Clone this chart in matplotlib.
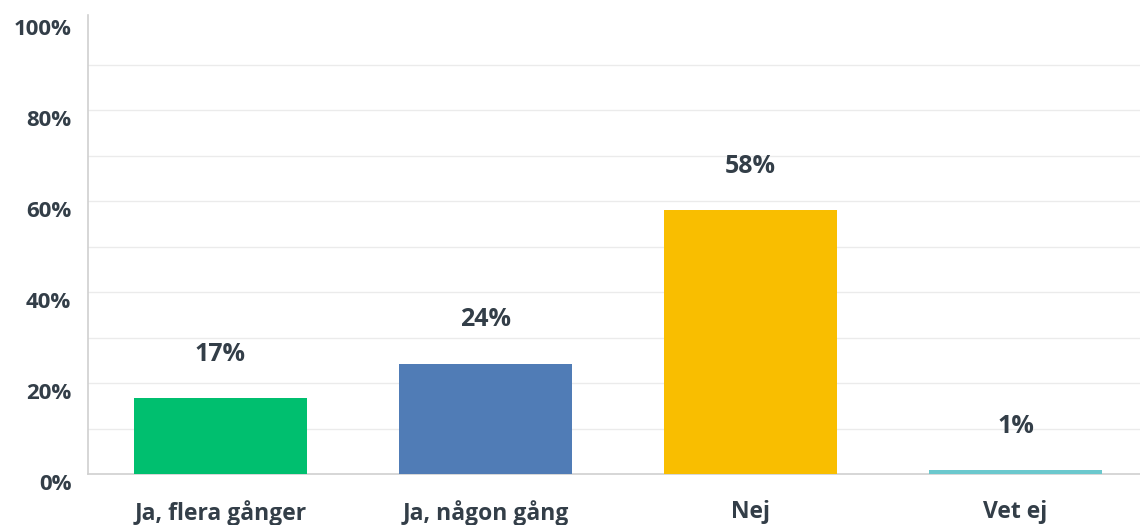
import matplotlib.pyplot as plt

categories = ['Ja, flera gånger', 'Ja, någon gång', 'Nej', 'Vet ej']
values = [16.7, 24.2, 58.0, 0.8]
labels = ['17%', '24%', '58%', '1%']
colors = ['#00bf6f', '#507cb6', '#f9be00', '#6bc8cd']
yticks = [0, 20, 40, 60, 80, 100]

plt.rcParams['font.family'] = ['Open Sans', 'DejaVu Sans']
text_color = '#333e48'

fig = plt.figure(figsize=(11.4, 5.25), dpi=100)
ax = fig.add_axes([88 / 1140, 1 - 474 / 525, 1 - 88 / 1140, (474 - 15) / 525])

x = range(len(categories))
ax.bar(x, values, width=0.65, color=colors, zorder=3)

for xi, v, lab in zip(x, values, labels):
    ax.annotate(lab, (xi, v), xytext=(0, 44), textcoords='offset pixels',
                ha='center', va='center', fontsize=18, fontweight='bold',
                color=text_color)

ax.set_xlim(-0.5, -0.5 + 1052 / 265)
ax.set_ylim(0, 100.9)

# light grid every 10%
for g in range(10, 100, 10):
    ax.axhline(g, color='#ebebeb', linewidth=1, zorder=1)

ax.set_yticks(yticks)
ax.set_yticklabels([f'{t}%' for t in yticks], fontsize=16, fontweight='bold',
                   color=text_color, va='top')
ax.tick_params(axis='y', length=0, pad=12)

ax.set_xticks(list(x))
ax.set_xticklabels(categories, fontsize=16.5, fontweight='bold', color=text_color)
ax.tick_params(axis='x', length=0, pad=19)

for s in ['top', 'right']:
    ax.spines[s].set_visible(False)
ax.spines['left'].set_color('#d0d0d0')
ax.spines['bottom'].set_color('#d0d0d0')
ax.spines['left'].set_linewidth(1.2)
ax.spines['bottom'].set_linewidth(1.2)

fig.savefig('out.png', dpi=100)
